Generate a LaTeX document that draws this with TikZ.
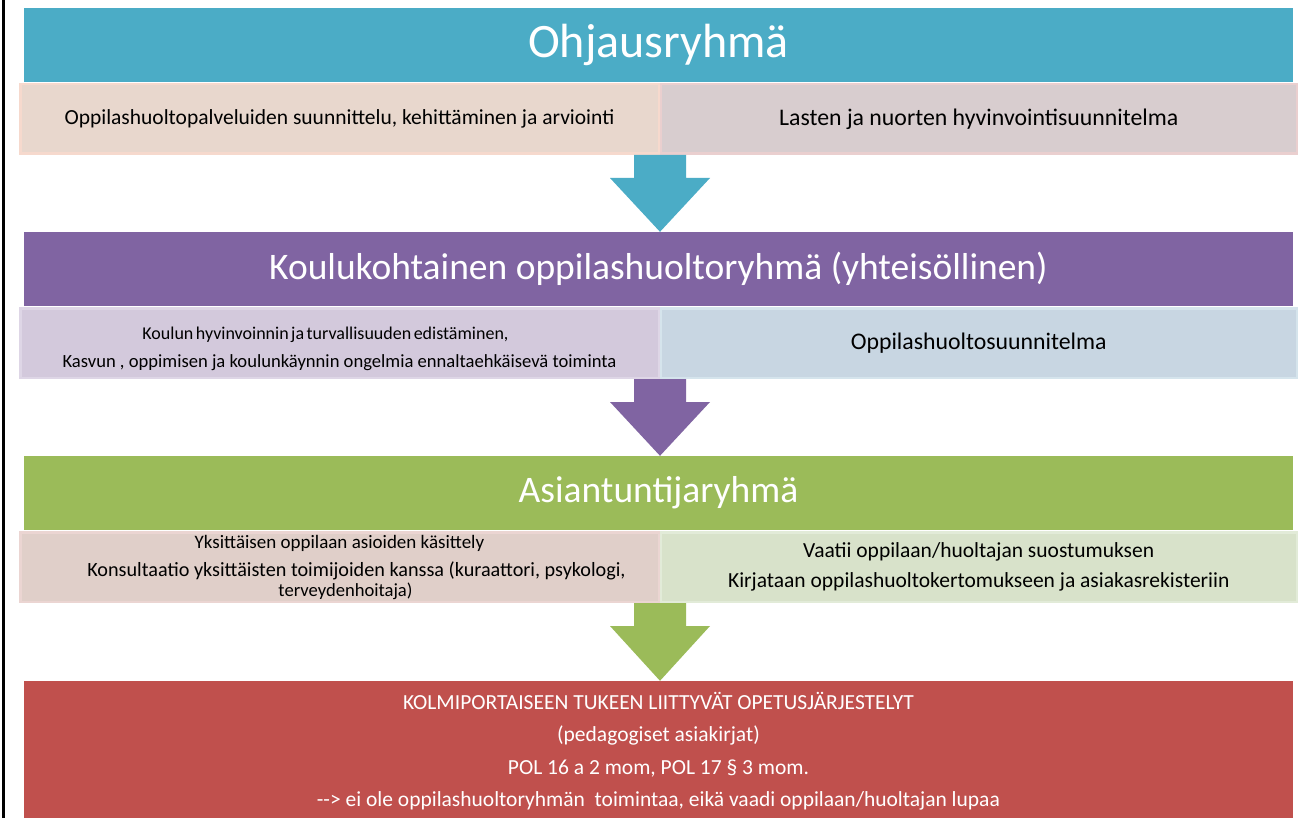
\documentclass[tikz,border=0pt]{standalone}
\usepackage{fontspec}
\setmainfont{Carlito}
\usetikzlibrary{calc}
\definecolor{hd_blue}{RGB}{75,172,198}
\definecolor{hd_purple}{RGB}{128,100,162}
\definecolor{hd_green}{RGB}{155,187,89}
\definecolor{hd_red}{RGB}{192,80,77}
\definecolor{sb_peach}{RGB}{232,215,205}
\definecolor{sb_peach_rim}{RGB}{246,217,205}
\definecolor{sb_rose}{RGB}{216,205,207}
\definecolor{sb_rose_rim}{RGB}{234,207,207}
\definecolor{sb_lilac}{RGB}{211,201,220}
\definecolor{sb_lilac_rim}{RGB}{222,214,230}
\definecolor{sb_steel}{RGB}{200,214,226}
\definecolor{sb_steel_rim}{RGB}{213,228,236}
\definecolor{sb_clay}{RGB}{224,207,201}
\definecolor{sb_clay_rim}{RGB}{235,213,210}
\definecolor{sb_sage}{RGB}{216,226,202}
\definecolor{sb_sage_rim}{RGB}{226,235,216}
\tikzstyle{hd}=[rectangle,inner sep=0pt,text=white,
  minimum width=1269pt,minimum height=74pt]
\tikzstyle{sbl}=[rectangle,inner sep=0pt,align=center,line width=2.5pt,
  minimum width=638.5pt,minimum height=69.5pt]
\tikzstyle{sbr}=[rectangle,inner sep=0pt,align=center,line width=2.5pt,
  minimum width=636pt,minimum height=69.5pt]
\newcommand{\hdbig}{\fontsize{48}{56}\selectfont}
\newcommand{\hdmid}{\fontsize{37.5}{44}\selectfont}
\newcommand{\txt}{\fontsize{21.5}{26}\selectfont}
\newcommand{\txtl}{\fontsize{23.8}{28}\selectfont}
\newcommand{\txts}{\fontsize{18.6}{20}\selectfont}
% block arrow from the bottom of a row down to the next header
\newcommand{\blockarrow}[3]{
  \fill[#1] let \p1=(#2.south east), \p2=(#3.north) in
    (\x1-26,\y1) -- (\x1+26,\y1) -- (\x1+26,\y1-23) -- (\x1+50,\y1-23)
    -- (\x1,\y2) -- (\x1-50,\y1-23) -- (\x1-26,\y1-23) -- cycle;}
\begin{document}
\begin{tikzpicture}[x=1pt,y=1pt]
    \useasboundingbox (0,0) rectangle (1298,-818);
    \fill[white] (0,0) rectangle (1298,-818);
    \draw[line width=2.5pt] (3.5,0) -- (3.5,-818);
    % Ohjausryhma
    \node [style=hd,fill=hd_blue,font=\hdbig] (ohj) at (658.5,-45) {Ohjausryhmä};
    \node [style=sbl,fill=sb_peach,draw=sb_peach_rim,font=\txt] (ohjl) at (339.5,-119)
      {Oppilashuoltopalveluiden suunnittelu, kehittäminen ja arviointi};
    \node [style=sbr,fill=sb_rose,draw=sb_rose_rim,font=\txtl] (ohjr) at (978.75,-119)
      {Lasten ja nuorten hyvinvointisuunnitelma};
    % koulukohtainen
    \node [style=hd,fill=hd_purple,font=\hdmid] (kou) at (658.5,-269)
      {Koulukohtainen oppilashuoltoryhmä (yhteisöllinen)};
    \node [style=sbl,fill=sb_lilac,draw=sb_lilac_rim,font=\txts] (koul) at (339.5,-343)
      {\rule{0pt}{25pt}{\fontsize{18}{20}\selectfont\spaceskip=2.5pt
       Koulun hyvinvoinnin ja turvallisuuden edistäminen,}\hspace*{28pt}\\[8pt]
       Kasvun , oppimisen ja koulunkäynnin ongelmia ennaltaehkäisevä toiminta};
    \node [style=sbr,fill=sb_steel,draw=sb_steel_rim,font=\txtl] (kour) at (978.75,-343)
      {Oppilashuoltosuunnitelma};
    % asiantuntijat
    \node [style=hd,fill=hd_green,font=\hdmid] (asi) at (658.5,-493) {Asiantuntijaryhmä};
    \node [style=sbl,fill=sb_clay,draw=sb_clay_rim,font=\txts] (asil) at (339.5,-567)
      {\fontsize{19}{20}\selectfont Yksittäisen oppilaan asioiden käsittely\\[8pt]
       \fontsize{20.2}{20}\selectfont
       \hspace*{34pt}Konsultaatio yksittäisten toimijoiden kanssa (kuraattori, psykologi,\\
       \hspace*{12pt}terveydenhoitaja)};
    \node [style=sbr,fill=sb_sage,draw=sb_sage_rim,font=\txt] (asir) at (978.75,-567)
      {Vaatii oppilaan/huoltajan suostumuksen\\[4pt]
       Kirjataan oppilashuoltokertomukseen ja asiakasrekisteriin};
    % kolmiportainen tuki
    \node [style=hd,fill=hd_red,minimum height=140pt,align=center,font=\txt] (tuki) at (658.5,-751)
      {KOLMIPORTAISEEN TUKEEN LIITTYVÄT OPETUSJÄRJESTELYT\\[6.5pt]
       (pedagogiset asiakirjat)\\[6.5pt]
       POL 16 a 2 mom, POL 17 § 3 mom.\\[6.5pt]
       -{}-> ei ole oppilashuoltoryhmän\ \ toimintaa, eikä vaadi oppilaan/huoltajan lupaa};
    \blockarrow{hd_blue}{ohjl}{kou}
    \blockarrow{hd_purple}{koul}{asi}
    \blockarrow{hd_green}{asil}{tuki}
  \end{tikzpicture}
\end{document}
